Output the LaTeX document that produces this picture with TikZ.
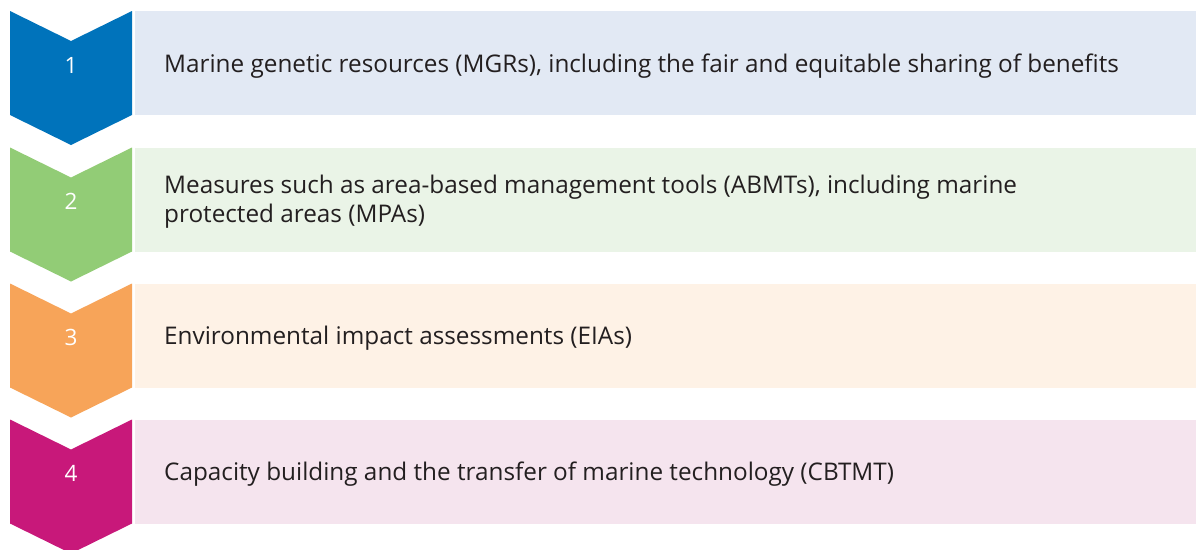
\documentclass[tikz,border=0pt]{standalone}
\usepackage{fontspec}
\setmainfont{Open Sans}
\definecolor{cblue}{RGB}{0,115,187}
\definecolor{cgreen}{RGB}{146,204,118}
\definecolor{corange}{RGB}{247,164,89}
\definecolor{cmagenta}{RGB}{200,24,122}
\definecolor{lblue}{RGB}{226,233,244}
\definecolor{lgreen}{RGB}{234,244,231}
\definecolor{lorange}{RGB}{254,242,230}
\definecolor{lpink}{RGB}{245,228,238}
\definecolor{txt}{RGB}{35,31,32}
\begin{document}
\begin{tikzpicture}[x=1pt,y=-1pt,
  boxstyle/.style={rectangle,inner sep=0pt,minimum width=1061pt,minimum height=104pt,anchor=north west},
  labelstyle/.style={anchor=west,inner sep=0pt,text=txt,align=left,font=\fontsize{24.3}{29}\selectfont},
  numstyle/.style={inner sep=0pt,text=white,font=\fontsize{22.5}{26}\selectfont}]
\useasboundingbox (0,0) rectangle (1196,549);
\fill[white] (0,0) rectangle (1196,549);
\newcommand{\chev}[4]{%
  \fill[#2] (10,#1) -- (71,#1+30) -- (132,#1) -- (132,#1+104) -- (71,#1+134) -- (10,#1+104) -- cycle;
  \node[boxstyle,fill=#3] (box#4) at (135,#1) {};
  \node[numstyle] (num#4) at (71,#1+54) {#4};
}
\chev{11}{cblue}{lblue}{1}
\chev{147.5}{cgreen}{lgreen}{2}
\chev{283.5}{corange}{lorange}{3}
\chev{419.5}{cmagenta}{lpink}{4}
\node[labelstyle] (t1) at ([xshift=29pt,yshift=-2.5pt]box1.west) {Marine genetic resources (MGRs), including the fair and equitable sharing of benefits};
\node[labelstyle] (t2) at ([xshift=29pt,yshift=-1.5pt]box2.west) {Measures such as area-based management tools (ABMTs), including marine\\protected areas (MPAs)};
\node[labelstyle] (t3) at ([xshift=29pt,yshift=-2.5pt]box3.west) {Environmental impact assessments (EIAs)};
\node[labelstyle] (t4) at ([xshift=29pt,yshift=-2.5pt]box4.west) {Capacity building and the transfer of marine technology (CBTMT)};
\end{tikzpicture}
\end{document}
